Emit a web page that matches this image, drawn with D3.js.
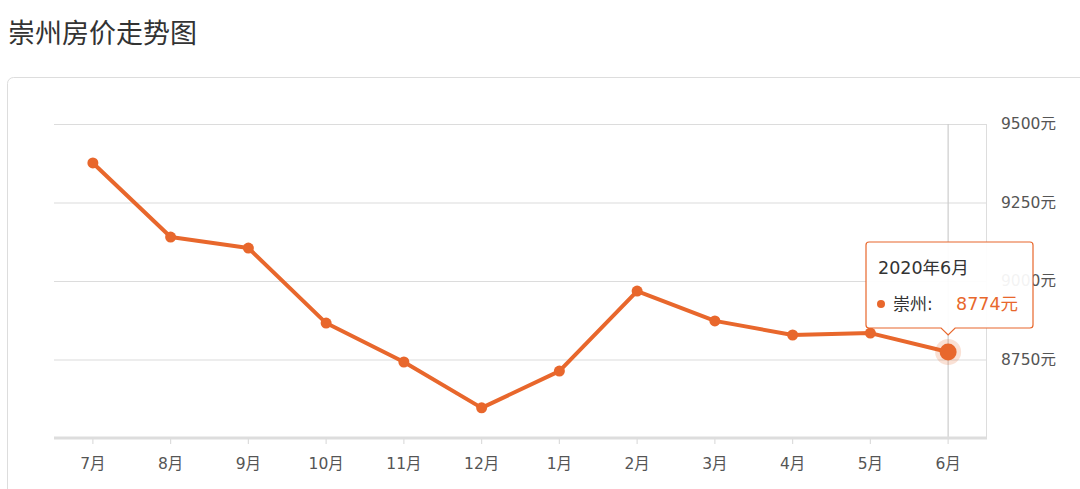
<!DOCTYPE html>
<html><head><meta charset="utf-8">
<script src="https://cdn.jsdelivr.net/npm/d3@7"></script>
<style>
html,body{margin:0;padding:0;background:#fff;}
svg{display:block;font-family:"DejaVu Sans","Noto Sans CJK SC",sans-serif;}
</style></head>
<body>
<svg id="c" width="1080" height="489"></svg>
<script>
const title = "崇州房价走势图";
const months = ["7月","8月","9月","10月","11月","12月","1月","2月","3月","4月","5月","6月"];
const prices = [9376,9140,9105,8866,8742,8596,8713,8968,8873,8828,8834,8774];
const yTicks = [8500,8750,9000,9250,9500];
const seriesName = "崇州";
const tipTitle = "2020年6月";
const color = "#e8672c";
const FONT = "'DejaVu Sans','Noto Sans CJK SC',sans-serif";

const svg = d3.select("#c");
svg.append("text").attr("x",8).attr("y",43).attr("font-size",27).attr("fill","#333")
  .attr("font-family","'Noto Sans CJK SC',sans-serif").text(title);
svg.append("rect").attr("x",7.5).attr("y",77.5).attr("width",1090).attr("height",430).attr("rx",6)
  .attr("fill","#fff").attr("stroke","#ddd");

const L=54,R=987,T=124,B=438;
const x = d3.scaleBand().domain(months).range([L,R]);
const cx = d=>x(d)+x.bandwidth()/2;
const y = d3.scaleLinear().domain([8500,9500]).range([B,T]);

const g = svg.append("g");
g.selectAll(".grid").data(yTicks.filter(t=>t!==8500)).join("line")
  .attr("x1",L).attr("x2",R).attr("y1",d=>y(d)+0.5).attr("y2",d=>y(d)+0.5)
  .attr("stroke","#dcdcdc").attr("stroke-width",1.2);
g.append("line").attr("x1",R-0.5).attr("x2",R-0.5).attr("y1",T).attr("y2",B).attr("stroke","#ddd");
g.append("line").attr("x1",cx("6月")).attr("x2",cx("6月")).attr("y1",T).attr("y2",B)
  .attr("stroke","#ccc").attr("stroke-width",1.2);

const xAxis = g.append("g").attr("transform",`translate(0,${B})`)
  .call(d3.axisBottom(x).tickSize(6).tickPadding(14));
xAxis.select(".domain").attr("stroke","#ddd").attr("stroke-width",3).attr("d",`M${L},0H${R}`);
xAxis.selectAll(".tick line").attr("stroke","#ddd").attr("stroke-width",1.2);
xAxis.selectAll(".tick text").attr("font-size",15.5).attr("fill","#555").attr("font-family",FONT);

const yAxis = g.append("g").attr("transform",`translate(${R},0)`)
  .call(d3.axisRight(y).tickValues(yTicks.filter(t=>t!==8500)).tickSize(0).tickPadding(14).tickFormat(d=>d+"元"));
yAxis.select(".domain").remove();
yAxis.selectAll(".tick text").attr("font-size",15.5).attr("fill","#555").attr("font-family",FONT);

const line = d3.line().x((d,i)=>cx(months[i])).y(d=>y(d));
g.append("path").datum(prices).attr("d",line).attr("fill","none").attr("stroke",color)
  .attr("stroke-width",4).attr("stroke-linejoin","round");
g.selectAll(".pt").data(prices).join("circle").attr("cx",(d,i)=>cx(months[i])).attr("cy",d=>y(d))
  .attr("r",5.5).attr("fill",color);

const li = prices.length-1;
const hx = cx(months[li]), hy = y(prices[li]);
g.append("circle").attr("cx",hx).attr("cy",hy).attr("r",13).attr("fill",color).attr("opacity",0.2);
g.append("circle").attr("cx",hx).attr("cy",hy).attr("r",8.5).attr("fill",color);

const bx=866, by=242, bw=167, bh=86;
const tip = svg.append("g").attr("font-family",FONT);
tip.append("path").attr("d",
  `M${bx+3},${by} H${bx+bw-3} Q${bx+bw},${by} ${bx+bw},${by+3} V${by+bh-3} Q${bx+bw},${by+bh} ${bx+bw-3},${by+bh}
   H${hx+7} L${hx},${by+bh+7} L${hx-7},${by+bh} H${bx+3} Q${bx},${by+bh} ${bx},${by+bh-3} V${by+3} Q${bx},${by} ${bx+3},${by} Z`)
  .attr("fill","rgba(255,255,255,0.93)").attr("stroke",color).attr("stroke-width",1.2);
tip.append("text").attr("x",878).attr("y",274).attr("font-size",17.5).attr("fill","#333").text(tipTitle);
tip.append("circle").attr("cx",881).attr("cy",304).attr("r",4).attr("fill",color);
tip.append("text").attr("x",893).attr("y",310).attr("font-size",17).attr("fill","#333").text(seriesName+":");
tip.append("text").attr("x",956).attr("y",310).attr("font-size",17.5).attr("fill",color).text(prices[li]+"元");
</script>
</body></html>
